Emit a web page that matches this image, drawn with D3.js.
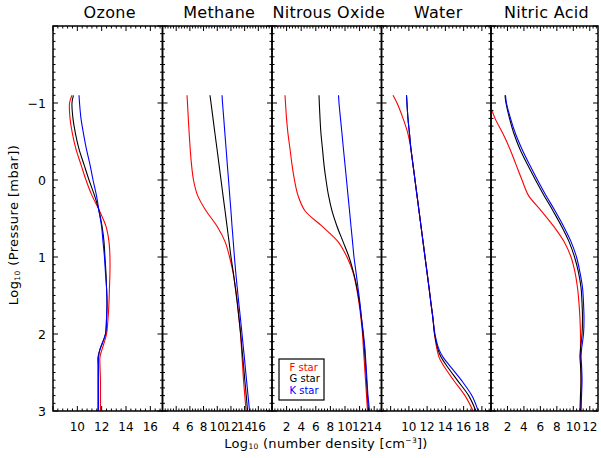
<!DOCTYPE html>
<html><head><meta charset="utf-8">
<script src="https://cdn.jsdelivr.net/npm/d3@7"></script>
<style>body{margin:0;background:#fff} text{font-family:"DejaVu Sans",sans-serif;fill:#000}</style>
</head><body><svg id="c" width="601" height="458"></svg>
<script>
// ---------------- data ----------------
const pressure = [-1.1,-1.0,-0.8,-0.6,-0.4,-0.2,0,0.2,0.4,0.6,0.8,1.0,1.2,1.4,1.6,1.8,2.0,2.2,2.3,2.4,2.6,2.8,3.0];
const panelTitles = ["Ozone","Methane","Nitrous Oxide","Water","Nitric Acid"];
const xDomains = [[8,17],[2,18],[0,15],[7,19],[0,13]];
const xTickLabels = [[10,12,14,16],[4,6,8,10,12,14,16],[2,4,6,8,10,12,14],[10,12,14,16,18],[2,4,6,8,10,12]];
const yTickLabels = [-1,0,1,2,3];
const starNames = ["F star","G star","K star"];
const starColors = ["#ff0000","#000000","#0000ff"];

const ozoneF = [9.56,9.36,9.40,9.60,9.89,10.30,10.71,11.20,11.82,12.35,12.60,12.68,12.68,12.64,12.60,12.52,12.40,12.03,11.86,11.86,11.90,11.90,11.90];
const ozoneG = [9.68,9.56,9.64,9.85,10.14,10.55,10.96,11.41,11.78,12.03,12.19,12.27,12.35,12.40,12.44,12.40,12.31,11.86,11.70,11.70,11.70,11.70,11.70];
const ozoneK = [10.14,10.18,10.30,10.51,10.75,11.04,11.29,11.57,11.78,11.99,12.11,12.23,12.31,12.40,12.44,12.40,12.31,11.86,11.74,11.74,11.74,11.74,11.74];

const methaneF = [5.58,5.65,5.77,5.90,6.05,6.24,6.53,7.12,8.36,9.97,11.14,11.80,12.31,12.67,12.96,13.18,13.40,13.55,13.62,13.70,13.84,14.03,14.21];
const methaneG = [8.94,9.09,9.38,9.67,9.97,10.26,10.55,10.84,11.14,11.43,11.72,12.01,12.34,12.64,12.92,13.18,13.42,13.62,13.73,13.83,14.03,14.24,14.43];
const methaneK = [10.70,10.77,10.95,11.12,11.30,11.47,11.65,11.82,12.00,12.16,12.34,12.51,12.70,12.92,13.15,13.39,13.62,13.84,13.96,14.06,14.28,14.50,14.72];

const n2oF = [1.78,1.85,1.99,2.19,2.47,2.74,3.08,3.56,4.52,6.85,9.04,10.27,11.10,11.58,11.92,12.19,12.40,12.53,12.60,12.67,12.81,12.95,13.08];
const n2oG = [6.44,6.48,6.58,6.71,6.92,7.12,7.40,7.74,8.22,8.90,9.73,10.55,11.16,11.64,11.99,12.26,12.47,12.67,12.74,12.81,12.95,13.08,13.22];
const n2oK = [9.11,9.18,9.38,9.59,9.79,10.00,10.21,10.41,10.62,10.82,11.03,11.23,11.51,11.78,12.05,12.26,12.53,12.74,12.81,12.88,13.01,13.15,13.36];

const waterF = [8.26,8.70,9.36,9.90,10.23,10.45,10.67,10.89,11.11,11.33,11.55,11.77,11.99,12.21,12.42,12.64,12.81,13.08,13.30,13.74,14.90,16.15,17.05];
const waterG = [9.74,9.79,9.90,10.07,10.23,10.45,10.67,10.89,11.11,11.33,11.55,11.77,11.99,12.21,12.42,12.64,12.81,13.19,13.52,14.07,15.30,16.55,17.35];
const waterK = [9.74,9.79,9.90,10.07,10.23,10.45,10.67,10.89,11.11,11.33,11.55,11.77,11.99,12.21,12.42,12.64,12.86,13.30,13.74,14.40,15.75,16.90,17.60];

const hno3F = [-0.36,-0.18,0.49,1.46,2.31,3.04,3.77,4.55,6.10,7.60,8.87,9.72,10.21,10.51,10.69,10.81,10.87,10.87,10.87,10.94,10.94,10.94,10.87];
const hno3G = [1.70,1.82,2.25,2.79,3.52,4.43,5.41,6.44,7.53,8.57,9.48,10.15,10.63,10.94,11.06,11.12,11.06,10.87,10.81,10.87,10.94,10.87,10.81];
const hno3K = [1.76,1.88,2.37,2.98,3.77,4.68,5.65,6.68,7.78,8.81,9.72,10.39,10.81,11.12,11.24,11.30,11.24,11.00,10.94,11.00,11.06,11.00,10.94];

const panelSeries = [
  [ozoneF, ozoneG, ozoneK],
  [methaneF, methaneG, methaneK],
  [n2oF, n2oG, n2oK],
  [waterF, waterG, waterK],
  [hno3F, hno3G, hno3K]
];

// ---------------- layout ----------------
const svg = d3.select("#c");
const edges = [53, 162.5, 272, 381.5, 491, 598];
const plotTop = 26, plotBottom = 411;
const y = d3.scaleLinear().domain([3, -2]).range([plotBottom, plotTop]);
const majLen = 5, minLen = 2.5;

panelTitles.forEach((title, i) => {
  const x0 = edges[i], x1 = edges[i+1];
  const x = d3.scaleLinear().domain(xDomains[i]).range([x0, x1]);
  const g = svg.append("g");

  const cid = "clip" + i;
  svg.append("clipPath").attr("id", cid).append("rect")
    .attr("x", x0).attr("y", plotTop).attr("width", x1 - x0).attr("height", plotBottom - plotTop);

  const line = d3.line().x(d => x(d[0])).y(d => y(d[1])).curve(d3.curveCatmullRom.alpha(0.5));
  const cg = g.append("g").attr("clip-path", `url(#${cid})`);
  panelSeries[i].forEach((vals, s) => {
    cg.append("path")
      .attr("d", line(vals.map((v, k) => [v, pressure[k]])))
      .attr("fill", "none").attr("stroke", starColors[s]).attr("stroke-width", 1.1);
  });

  const [d0, d1] = xDomains[i];
  const majors = d3.range(Math.ceil(d0 / 2) * 2, d1 + 1e-9, 2);
  const minors = d3.range(Math.ceil(d0 / 0.4 - 1e-9) * 0.4, d1 + 1e-9, 0.4)
    .filter(v => Math.abs(v / 2 - Math.round(v / 2)) > 1e-6);
  const tk = g.append("g").attr("stroke", "#000").attr("stroke-width", 1);
  minors.forEach(v => {
    tk.append("line").attr("x1", x(v)).attr("x2", x(v)).attr("y1", plotBottom).attr("y2", plotBottom - minLen);
    tk.append("line").attr("x1", x(v)).attr("x2", x(v)).attr("y1", plotTop).attr("y2", plotTop + minLen);
  });
  majors.forEach(v => {
    tk.append("line").attr("x1", x(v)).attr("x2", x(v)).attr("y1", plotBottom).attr("y2", plotBottom - majLen);
    tk.append("line").attr("x1", x(v)).attr("x2", x(v)).attr("y1", plotTop).attr("y2", plotTop + majLen);
  });
  const yMin = d3.range(-20, 31, 1).map(v => v / 10).filter(v => Math.abs(v - Math.round(v)) > 1e-6);
  const yMaj = d3.range(-2, 4, 1);
  yMin.forEach(v => {
    tk.append("line").attr("x1", x0).attr("x2", x0 + minLen).attr("y1", y(v)).attr("y2", y(v));
    tk.append("line").attr("x1", x1).attr("x2", x1 - minLen).attr("y1", y(v)).attr("y2", y(v));
  });
  yMaj.forEach(v => {
    tk.append("line").attr("x1", x0).attr("x2", x0 + majLen).attr("y1", y(v)).attr("y2", y(v));
    tk.append("line").attr("x1", x1).attr("x2", x1 - majLen).attr("y1", y(v)).attr("y2", y(v));
  });

  g.append("rect").attr("x", x0).attr("y", plotTop).attr("width", x1 - x0).attr("height", plotBottom - plotTop)
    .attr("fill", "none").attr("stroke", "#000").attr("stroke-width", 1.5);

  g.selectAll(".xl").data(xTickLabels[i]).join("text")
    .attr("x", d => x(d)).attr("y", 431).attr("text-anchor", "middle")
    .style("font-size", "12px").text(d => d);

  g.append("text").attr("x", (x0 + x1) / 2 + 2).attr("y", 17.5).attr("text-anchor", "middle")
    .style("font-size", "16px").style("letter-spacing", "0.3px").text(title);
});

svg.selectAll(".yl").data(yTickLabels).join("text")
  .attr("x", 46).attr("y", d => y(d)).attr("dy", "0.36em").attr("text-anchor", "end")
  .style("font-size", "12.5px").text(d => d < 0 ? "\u2212" + Math.abs(d) : d);

const yt = svg.append("text").attr("transform", "translate(18,225) rotate(-90)")
  .attr("text-anchor", "middle").style("font-size", "13px").style("letter-spacing", "0.4px");
yt.append("tspan").text("Log");
yt.append("tspan").style("font-size", "7.5px").attr("dy", "1.5").text("10");
yt.append("tspan").attr("dy", "-1.5").text(" (Pressure [mbar])");

const xt = svg.append("text").attr("x", 326).attr("y", 447.5).attr("text-anchor", "middle")
  .style("font-size", "13px").style("letter-spacing", "0.3px");
xt.append("tspan").text("Log");
xt.append("tspan").style("font-size", "7.5px").attr("dy", "1.5").text("10");
xt.append("tspan").attr("dy", "-1.5").text(" (number density [cm");
xt.append("tspan").style("font-size", "7.5px").attr("dy", "-5").text("\u22123");
xt.append("tspan").attr("dy", "5").text("])");

const lg = svg.append("g");
lg.append("rect").attr("x", 279).attr("y", 359).attr("width", 45).attr("height", 41)
  .attr("fill", "#fff").attr("stroke", "#000").attr("stroke-width", 1.2);
lg.selectAll("text").data(starNames).join("text")
  .attr("x", 289.5).attr("y", (d, k) => 370.5 + k * 11.5)
  .style("font-size", "10px").style("fill", (d, k) => starColors[k])
  .text(d => d);
</script></body></html>
